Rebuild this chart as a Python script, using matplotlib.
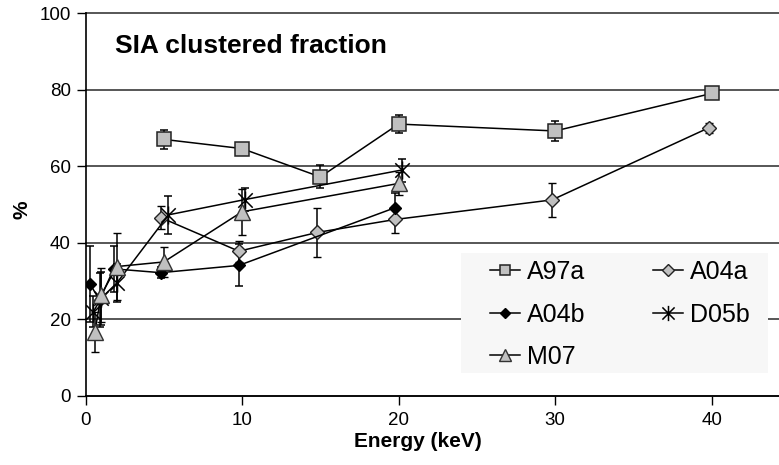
import matplotlib
matplotlib.use("Agg")
import matplotlib.pyplot as plt
from matplotlib.path import Path
from matplotlib.patches import Rectangle
from matplotlib.lines import Line2D

plt.rcParams['font.family'] = ['Liberation Sans', 'DejaVu Sans']

# ---- data ----
a97a_x = [5, 10, 15, 20, 30, 40]
a97a_y = [67.0, 64.6, 57.2, 71.0, 69.2, 79.0]
a97a_e = [2.4, 0, 3.0, 2.4, 2.6, 0]

a04a_x = [4.8, 9.8, 14.8, 19.8, 29.8, 39.8]
a04a_y = [46.6, 37.8, 42.7, 46.1, 51.2, 70.0]
a04a_e = [3.0, 2.8, 6.3, 3.6, 4.4, 1.3]

a04b_x = [0.3, 0.9, 1.8, 4.8, 9.8, 19.8]
a04b_y = [29.2, 25.0, 33.2, 32.2, 34.1, 49.2]
a04b_e = [10.0, 7.0, 6.0, 1.5, 5.5, 3.8]

d05b_x = [0.5, 1.0, 2.0, 5.3, 10.2, 20.2]
d05b_y = [22.0, 25.5, 29.5, 47.3, 51.3, 59.0]
d05b_e = [4.0, 7.0, 5.0, 5.0, 3.0, 3.0]

m07_x = [0.6, 1.0, 2.0, 5.0, 10.0, 20.0]
m07_y = [16.8, 26.4, 33.8, 35.0, 48.1, 55.5]
m07_e = [5.2, 7.0, 8.7, 4.0, 6.0, 3.0]

x_ticks = [0, 10, 20, 30, 40]
y_ticks = [0, 20, 40, 60, 80, 100]

# ---- figure ----
W, H = 779, 465
fig = plt.figure(figsize=(W / 100, H / 100), dpi=100)
ax_l, ax_r, ax_t, ax_b = 85.5, 779, 13, 396
ax = fig.add_axes([ax_l / W, 1 - ax_b / H, (ax_r - ax_l) / W, (ax_b - ax_t) / H])

ax.set_xlim(0, 44.3)
ax.set_ylim(0, 100)
ax.set_xticks(x_ticks)
ax.set_yticks(y_ticks)
ax.tick_params(axis='both', direction='out', length=6.5, width=1, labelsize=13.5,
               colors='black')
ax.tick_params(axis='y', pad=4)
ax.tick_params(axis='x', pad=5)
for s in ['top', 'right']:
    ax.spines[s].set_visible(False)
for s in ['left', 'bottom']:
    ax.spines[s].set_linewidth(1.2)
ax.yaxis.grid(True, color='#3a3a3a', linewidth=1.2)
ax.set_axisbelow(True)
for gl in ax.get_ygridlines():
    gl.set_clip_on(False)

gray = '#c0c0c0'
star = Path([(-1, -1), (1, 1), (-1, 1), (1, -1), (0, -1.25), (0, 1.25)],
            [Path.MOVETO, Path.LINETO, Path.MOVETO, Path.LINETO, Path.MOVETO, Path.LINETO])

common = dict(color='black', linewidth=1.1, elinewidth=1.1, capsize=3.2, capthick=1.1, ecolor='black')

styles = {
    'A97a': dict(marker='s', markersize=9.5, markerfacecolor=gray, markeredgecolor='#222222', markeredgewidth=1.1),
    'A04a': dict(marker='D', markersize=7.5, markerfacecolor=gray, markeredgecolor='#222222', markeredgewidth=1.0),
    'A04b': dict(marker='D', markersize=6, markerfacecolor='black', markeredgecolor='black'),
    'D05b': dict(marker=star, markersize=13, markerfacecolor='none', markeredgecolor='black', markeredgewidth=1.1),
    'M07': dict(marker='^', markersize=11, markerfacecolor=gray, markeredgecolor='#333333', markeredgewidth=1.0),
}
leg_sizes = {'A97a': 7.5, 'A04a': 6, 'A04b': 5, 'D05b': 11, 'M07': 8.5}

series = [('A97a', a97a_x, a97a_y, a97a_e), ('A04a', a04a_x, a04a_y, a04a_e),
          ('A04b', a04b_x, a04b_y, a04b_e), ('D05b', d05b_x, d05b_y, d05b_e),
          ('M07', m07_x, m07_y, m07_e)]
for name, x, y, e in series:
    e2 = [v if v > 0 else float('nan') for v in e]
    ax.errorbar(x, y, yerr=e2, zorder=3, **common, **styles[name])

# legend background
lx0, lx1, ly0, ly1 = 460.7, 768, 253, 373
fx = lambda px: (px - ax_l) / (ax_r - ax_l)
fy = lambda py: (ax_b - py) / (ax_b - ax_t)
ax.add_patch(Rectangle((fx(lx0), fy(ly1)), fx(lx1) - fx(lx0), fy(ly0) - fy(ly1),
                       transform=ax.transAxes, facecolor='#f7f7f7', edgecolor='none',
                       zorder=2.5))

order = ['A97a', 'A04b', 'M07', 'A04a', 'D05b']
handles = []
for name in order:
    st = dict(styles[name])
    st['markersize'] = leg_sizes[name]
    handles.append(Line2D([], [], color='black', linewidth=1.1, **st))
leg = ax.legend(handles, order, ncol=2, frameon=False, fontsize=18,
                loc='upper left', bbox_to_anchor=(fx(490), fy(260)),
                borderpad=0, borderaxespad=0, handlelength=1.2, handletextpad=0.28,
                columnspacing=2.7, labelspacing=0.74)
leg.set_zorder(4)

fig.text(115 / W, 1 - 53 / H, 'SIA clustered fraction', fontsize=19, fontweight='bold',
         ha='left', va='baseline')
fig.text(418 / W, 1 - 441 / H, 'Energy (keV)', fontsize=15, fontweight='bold',
         ha='center', va='center')
fig.text(22 / W, 1 - 210 / H, '%', fontsize=15, fontweight='bold', rotation=90,
         ha='center', va='center')

fig.savefig('out.png', dpi=100)
